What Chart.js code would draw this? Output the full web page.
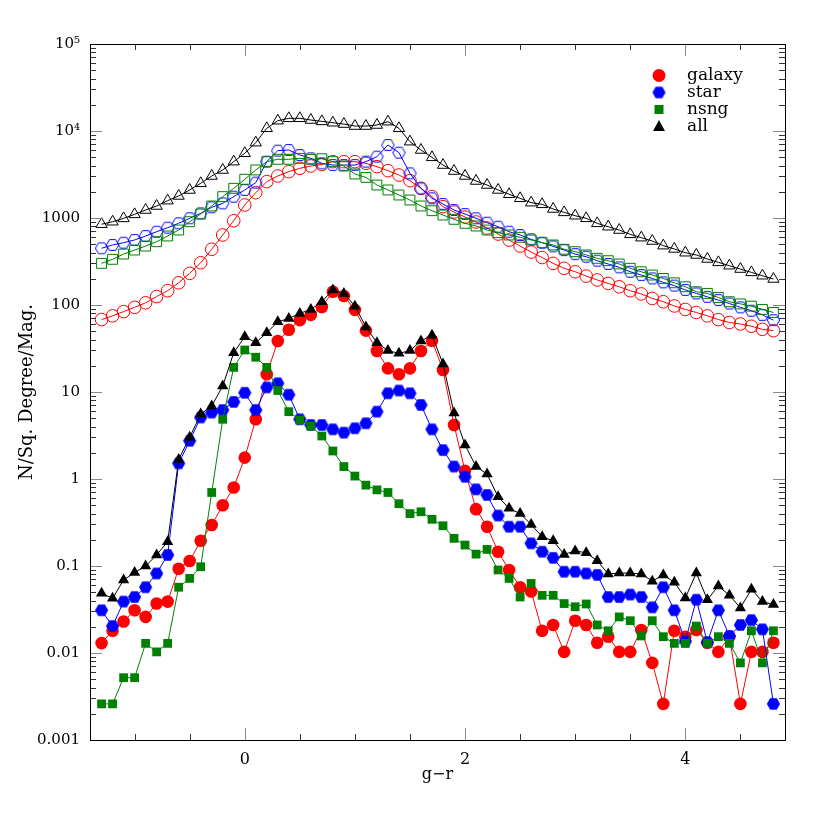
<!DOCTYPE html>
<html>
<head>
<meta charset="utf-8">
<script src="https://cdn.jsdelivr.net/npm/chart.js@4.4.1/dist/chart.umd.min.js"></script>
<style>
html, body { margin: 0; padding: 0; background: #fff; }
</style>
</head>
<body>
<canvas id="chart" width="830" height="830"></canvas>
<script>
// g-r bin centres
const grValues = [
  -1.3, -1.2, -1.1, -1.0, -0.9, -0.8, -0.7, -0.6, -0.5, -0.4,
  -0.3, -0.2, -0.1, 0.0, 0.1, 0.2, 0.3, 0.4, 0.5, 0.6,
  0.7, 0.8, 0.9, 1.0, 1.1, 1.2, 1.3, 1.4, 1.5, 1.6,
  1.7, 1.8, 1.9, 2.0, 2.1, 2.2, 2.3, 2.4, 2.5, 2.6,
  2.7, 2.8, 2.9, 3.0, 3.1, 3.2, 3.3, 3.4, 3.5, 3.6,
  3.7, 3.8, 3.9, 4.0, 4.1, 4.2, 4.3, 4.4, 4.5, 4.6,
  4.7, 4.8
];

// filled symbols (lower curves)
const galaxyCounts = [
  0.013, 0.018, 0.023, 0.031, 0.026, 0.037, 0.039, 0.093, 0.114, 0.195,
  0.296, 0.50, 0.80, 1.76, 4.86, 16.0, 38.5, 52, 67, 77,
  95, 142, 127, 88, 50.7, 29.6, 18.7, 16.0, 18.7, 29.6,
  38.9, 17.9, 4.18, 1.24, 0.45, 0.283, 0.146, 0.09, 0.057, 0.051,
  0.018, 0.021, 0.0103, 0.0235, 0.021, 0.0131, 0.0154, 0.0103, 0.0103, 0.0184,
  0.0077, 0.0026, 0.018, 0.0154, 0.0184, 0.0131, 0.0103, 0.0154, 0.0026, 0.0103,
  0.0103, 0.0131
];
const starCounts = [
  0.031, 0.0204, 0.039, 0.044, 0.057, 0.082, 0.134, 1.51, 2.75, 5.1,
  5.8, 6.2, 7.7, 9.8, 6.2, 11.3, 12.6, 9.3, 4.86, 4.18,
  4.18, 3.72, 3.41, 3.83, 4.37, 5.94, 9.66, 10.4, 9.66, 7.1,
  3.72, 2.15, 1.39, 1.06, 0.76, 0.655, 0.38, 0.283, 0.283, 0.182,
  0.146, 0.124, 0.086, 0.086, 0.082, 0.079, 0.044, 0.044, 0.047, 0.044,
  0.0335, 0.057, 0.031, 0.0136, 0.041, 0.0133, 0.031, 0.0157, 0.021, 0.0239,
  0.0187, 0.0026
];
const nsngCounts = [
  0.0026, 0.0026, 0.0052, 0.0052, 0.0129, 0.0103, 0.0129, 0.057, 0.072, 0.098,
  0.70, 4.86, 19.2, 30.4, 25.1, 19.2, 10.4, 5.94, 4.77, 4.06,
  3.12, 2.1, 1.39, 1.08, 0.85, 0.75, 0.70, 0.52, 0.40, 0.42,
  0.344, 0.29, 0.208, 0.174, 0.137, 0.155, 0.09, 0.072, 0.044, 0.063,
  0.046, 0.046, 0.037, 0.034, 0.0366, 0.021, 0.018, 0.026, 0.0235, 0.0157,
  0.0235, 0.0154, 0.0129, 0.0129, 0.0204, 0.0129, 0.0154, 0.0129, 0.0077, 0.018,
  0.0077, 0.018
];
const allCounts = [
  0.0485, 0.0425, 0.069, 0.084, 0.1, 0.134, 0.19, 1.68, 3.01, 5.58,
  6.9, 11.7, 28.3, 43.2, 36.9, 48, 64, 70, 80, 89,
  109, 149, 136, 97, 56, 36.9, 29.9, 27.8, 29.9, 38.6,
  45, 21, 5.75, 2.46, 1.39, 1.14, 0.625, 0.46, 0.40, 0.30,
  0.217, 0.195, 0.136, 0.149, 0.142, 0.115, 0.081, 0.083, 0.083, 0.081,
  0.067, 0.079, 0.065, 0.043, 0.083, 0.041, 0.059, 0.046, 0.033, 0.054,
  0.039, 0.036
];

// open symbols (upper curves)
const galaxyOpen = [
  68, 75, 84, 94, 106, 125, 146, 180, 231, 306,
  437, 638, 931, 1411, 1954, 2617, 3041, 3411, 3726, 3960,
  4120, 4440, 4440, 4440, 4250, 3890, 3500, 3120, 2686, 2194,
  1760, 1350, 1172, 1026, 900, 767, 654, 558, 476, 406,
  351, 301, 264, 241, 215, 194, 177, 162, 146, 134,
  119, 109, 97.5, 89, 82, 75, 68, 63, 60.5, 57,
  52.5, 50.7
];
const starOpen = [
  449, 490, 520, 559, 621, 696, 774, 869, 992, 1132,
  1327, 1475, 1760, 2100, 2548, 4444, 5946, 6050, 5300, 4850,
  4250, 4060, 4060, 4060, 4444, 5070, 6910, 5640, 3260, 2190,
  1684, 1449, 1236, 1111, 992, 883, 794, 696, 638, 569,
  520, 472, 428, 385, 359, 323, 296, 271, 241, 221,
  202, 182, 167, 149, 136, 124, 114, 104, 94, 86,
  77, 67
];
const nsngOpen = [
  301, 335, 385, 428, 476, 534, 621, 727, 906, 1111,
  1374, 1760, 2194, 2787, 3565, 4444, 4730, 4730, 4850, 4730,
  4800, 4440, 3960, 3206, 2930, 2393, 2100, 1838, 1610, 1374,
  1213, 1082, 966, 869, 809, 727, 678, 638, 600, 559,
  520, 490, 437, 410, 376, 344, 323, 296, 264, 241,
  221, 202, 180, 162, 142, 136, 122, 109, 103, 97,
  89, 82
];
const allOpen = [
  848, 906, 990, 1101, 1236, 1374, 1582, 1791, 2099, 2505,
  3041, 3565, 4444, 5546, 7345, 10743, 13130, 13990, 14000, 13370,
  12900, 12450, 12020, 11400, 11400, 11720, 12800, 10740, 7540, 6050,
  4980, 4060, 3466, 3040, 2663, 2395, 2100, 1873, 1684, 1500,
  1436, 1270, 1161, 1062, 991, 868, 794, 727, 649, 594,
  544, 481, 441, 399, 376, 338, 309, 283, 259, 237,
  217, 199
];

const yTickValues = [0.001, 0.01, 0.1, 1, 10, 100, 1000, 1e4, 1e5];
const yTickLabels = ['0.001', '0.01', '0.1', '1', '10', '100', '1000', '10\u2074', '10\u2075'];
const xTickValues = [0, 2, 4];
const legendNames = ['galaxy', 'star', 'nsng', 'all'];

const RED = '#ff0000', BLUE = '#0000ff', GREEN = '#008000', BLACK = '#000000';
const FONT = 'DejaVu Serif';

function hexagon(color, filled) {
  const c = document.createElement('canvas');
  c.width = 15;
  c.height = 14;
  const g = c.getContext('2d');
  const r = filled ? 6.6 : 6.2;
  g.beginPath();
  for (let k = 0; k < 6; k++) {
    const a = k * Math.PI / 3;
    g.lineTo(7.5 + r * Math.cos(a), 7 + r * Math.sin(a));
  }
  g.closePath();
  if (filled) {
    g.fillStyle = color;
    g.fill();
  } else {
    g.strokeStyle = color;
    g.lineWidth = 1;
    g.stroke();
  }
  return c;
}
const hexFilled = hexagon(BLUE, true);
const hexOpen = hexagon(BLUE, false);

function pts(values) {
  return values.map((v, i) => ({ x: grValues[i], y: v }));
}

function ds(values, color, style, radius, filled, order) {
  return {
    data: pts(values),
    borderColor: color,
    borderWidth: 1,
    pointStyle: style,
    pointRadius: radius,
    pointBackgroundColor: filled ? color : 'rgba(0,0,0,0)',
    pointBorderColor: color,
    pointBorderWidth: filled ? 0 : 1,
    order: order
  };
}

// frame with inward ticks on all four sides
const framePlugin = {
  id: 'frame',
  afterDatasetsDraw(chart) {
    const { ctx, chartArea: a, scales } = chart;
    const xs = scales.x, ys = scales.y;
    ctx.save();
    ctx.lineWidth = 1;
    function seg(x1, y1, x2, y2) {
      ctx.beginPath();
      ctx.moveTo(x1, y1);
      ctx.lineTo(x2, y2);
      ctx.stroke();
    }
    for (let e = -3; e <= 4; e++) {
      for (let s = 1; s <= 9; s++) {
        const py = Math.round(ys.getPixelForValue(s * Math.pow(10, e))) + 0.5;
        const len = s === 1 ? 12 : 6;
        ctx.strokeStyle = s === 1 ? '#888' : '#333';
        seg(a.left, py, a.left + len, py);
        seg(a.right, py, a.right - len, py);
      }
    }
    for (let k = -2; k <= 9; k++) {
      const v = k / 2;
      const px = Math.round(xs.getPixelForValue(v)) + 0.5;
      const major = k % 4 === 0;
      const len = major ? 12 : 6;
      ctx.strokeStyle = major ? '#888' : '#333';
      seg(px, a.bottom, px, a.bottom - len);
      seg(px, a.top, px, a.top + len);
    }
    ctx.strokeStyle = '#000';
    ctx.strokeRect(Math.round(a.left) + 0.5, Math.round(a.top) + 0.5,
      Math.round(a.right - a.left), Math.round(a.bottom - a.top));
    ctx.restore();
  },
  afterDraw(chart) {
    const ctx = chart.ctx;
    const colors = [RED, BLUE, GREEN, BLACK];
    const mx = 659, tx = 687, y0 = 75.5, dy = 17;
    ctx.save();
    ctx.font = '17px "' + FONT + '"';
    ctx.textBaseline = 'middle';
    ctx.fillStyle = '#000';
    for (let i = 0; i < legendNames.length; i++) {
      const y = y0 + i * dy;
      ctx.fillStyle = colors[i];
      ctx.beginPath();
      if (i === 0) {
        ctx.arc(mx, y, 6.5, 0, Math.PI * 2);
        ctx.fill();
      } else if (i === 1) {
        ctx.drawImage(hexFilled, mx - 7.5, y - 7);
      } else if (i === 2) {
        ctx.fillRect(mx - 4.5, y - 4.5, 9, 9);
      } else {
        ctx.moveTo(mx, y - 6.5);
        ctx.lineTo(mx + 6, y + 4.5);
        ctx.lineTo(mx - 6, y + 4.5);
        ctx.closePath();
        ctx.fill();
      }
      ctx.fillStyle = '#000';
      ctx.fillText(legendNames[i], tx, y);
    }
    ctx.restore();
  }
};

new Chart(document.getElementById('chart'), {
  type: 'line',
  data: {
    datasets: [
      ds(galaxyOpen, RED, 'circle', 6.3, false, 8),
      ds(starOpen, BLUE, hexOpen, 6.3, false, 7),
      ds(nsngOpen, GREEN, 'rect', 7, false, 6),
      ds(allOpen, BLACK, 'triangle', 6.5, false, 5),
      ds(galaxyCounts, RED, 'circle', 6.3, true, 4),
      ds(starCounts, BLUE, hexFilled, 6.3, true, 3),
      ds(nsngCounts, GREEN, 'rect', 6.2, true, 2),
      ds(allCounts, BLACK, 'triangle', 6.5, true, 1)
    ]
  },
  options: {
    responsive: false,
    animation: false,
    layout: { padding: { top: 44, right: 45, left: 0, bottom: 0 } },
    plugins: {
      legend: { display: false },
      tooltip: { enabled: false }
    },
    scales: {
      x: {
        type: 'linear',
        min: -1.405,
        max: 4.905,
        grid: { display: false, drawTicks: false },
        border: { display: false },
        afterBuildTicks(scale) {
          scale.ticks = xTickValues.map(v => ({ value: v }));
        },
        afterFit(scale) { scale.height = 90; },
        ticks: {
          padding: 10,
          color: '#000',
          font: { family: FONT, size: 16 },
          callback: v => String(v)
        },
        title: {
          display: true,
          text: 'g\u2212r',
          color: '#000',
          font: { family: FONT, size: 16 },
          padding: { top: 0, bottom: 46 }
        }
      },
      y: {
        type: 'logarithmic',
        min: 0.001,
        max: 1e5,
        grid: { display: false, drawTicks: false },
        border: { display: false },
        afterBuildTicks(scale) {
          scale.ticks = yTickValues.map(v => ({ value: v }));
        },
        afterFit(scale) { scale.width = 90; },
        ticks: {
          padding: 10,
          autoSkip: false,
          color: '#000',
          font: { family: FONT, size: 15 },
          callback: v => {
            const i = yTickValues.indexOf(v);
            return i >= 0 ? yTickLabels[i] : '';
          }
        },
        title: {
          display: true,
          text: 'N/Sq. Degree/Mag.',
          color: '#000',
          font: { family: FONT, size: 18 },
          padding: { top: 17, bottom: 0 }
        }
      }
    }
  },
  plugins: [framePlugin]
});
</script>
</body>
</html>
